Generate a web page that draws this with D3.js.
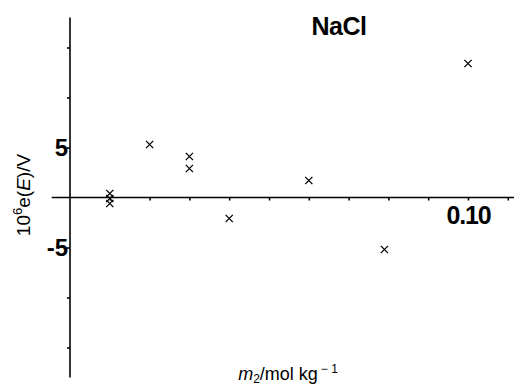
<!DOCTYPE html>
<html>
<head>
<meta charset="utf-8">
<script src="https://cdn.jsdelivr.net/npm/d3@7"></script>
<style>
  body { margin: 0; background: #fff; }
  svg { display: block; font-family: "Liberation Sans", Arial, sans-serif; }
</style>
</head>
<body>
<figure id="chart" style="margin:0"></figure>
<script>
// data
const molality = [0.01, 0.01, 0.01, 0.02, 0.03, 0.03, 0.04, 0.06, 0.079, 0.10];
const errorE   = [0.4, -0.1, -0.6, 5.3, 4.1, 2.9, -2.1, 1.7, -5.2, 13.4];
const yTickValues = [-15, -10, -5, 5, 10, 15];
const yTickLabels = { "5": "5", "-5": "-5" };
const xTickValues = [0.01, 0.02, 0.03, 0.04, 0.05, 0.06, 0.07, 0.08, 0.09, 0.10, 0.11];
const xTickLabels = { "0.1": "0.10" };

const width = 514, height = 387;

const svg = d3.select("figure#chart")
  .append("svg")
  .attr("width", width)
  .attr("height", height);

const x = d3.scaleLinear().domain([0, 0.10]).range([70, 468]);
const y = d3.scaleLinear().domain([-18, 18]).range([377.5, 17.5]);

// X axis through zero
const xAxis = svg.append("g")
  .attr("transform", "translate(0," + y(0) + ")")
  .call(d3.axisBottom(x)
    .tickValues(xTickValues)
    .tickSize(3)
    .tickSizeOuter(0)
    .tickFormat(d => xTickLabels[String(+d.toFixed(3))] || ""));
xAxis.select(".domain").remove();
xAxis.append("line")
  .attr("x1", x(-0.0046)).attr("x2", width)
  .attr("stroke", "#000").attr("stroke-width", 1.6);
xAxis.selectAll(".tick line").attr("stroke-width", 1.6);
xAxis.selectAll(".tick text")
  .attr("y", 9)
  .attr("dy", "0.71em")
  .style("font-size", "25px")
  .style("font-weight", "bold")
  .style("letter-spacing", "-1.2px")
  .attr("fill", "#000");

// Y axis
const yAxis = svg.append("g")
  .attr("transform", "translate(" + x(0) + ",0)")
  .call(d3.axisLeft(y)
    .tickValues(yTickValues)
    .tickSize(3)
    .tickSizeOuter(0)
    .tickFormat(d => yTickLabels[String(d)] || ""));
yAxis.select(".domain").remove();
yAxis.append("line")
  .attr("y1", y(18)).attr("y2", y(-18))
  .attr("stroke", "#000").attr("stroke-width", 1.6);
yAxis.selectAll(".tick line").attr("stroke-width", 1.6);
yAxis.selectAll(".tick text")
  .attr("x", -2)
  .style("font-size", "24px")
  .style("font-weight", "bold")
  .attr("fill", "#000");

// Points as crosses
const pts = molality.map((m, i) => ({ m: m, e: errorE[i] }));
const s = 3.6;
svg.append("g").selectAll("path")
  .data(pts)
  .enter()
  .append("path")
  .attr("d", d => {
    const cx = x(d.m), cy = y(d.e);
    return "M" + (cx - s) + "," + (cy - s) + "L" + (cx + s) + "," + (cy + s) +
           "M" + (cx - s) + "," + (cy + s) + "L" + (cx + s) + "," + (cy - s);
  })
  .attr("stroke", "#000")
  .attr("stroke-width", 1.3)
  .attr("fill", "none");

// Title
svg.append("text")
  .attr("x", 339).attr("y", 35)
  .attr("text-anchor", "middle")
  .style("font-size", "25px")
  .style("font-weight", "bold")
  .style("letter-spacing", "-0.5px")
  .text("NaCl");

// X label
const xl = svg.append("text")
  .attr("x", 288).attr("y", 380)
  .attr("text-anchor", "middle")
  .style("font-size", "18px");
xl.append("tspan").style("font-style", "italic").text("m");
xl.append("tspan").attr("dy", 3).style("font-size", "12px").text("2");
xl.append("tspan").attr("dy", -3).text("/mol kg");
xl.append("tspan").attr("dy", -7).attr("dx", 3).style("font-size", "12px").text("\u2212 1");

// Y label
const yl = svg.append("text")
  .attr("transform", "translate(30,195) rotate(-90)")
  .attr("text-anchor", "middle")
  .style("font-size", "19px");
yl.append("tspan").text("10");
yl.append("tspan").attr("dy", -8).style("font-size", "13px").text("6");
yl.append("tspan").attr("dy", 8).text("e(");
yl.append("tspan").style("font-style", "italic").text("E");
yl.append("tspan").text(")/V");
</script>
</body>
</html>
